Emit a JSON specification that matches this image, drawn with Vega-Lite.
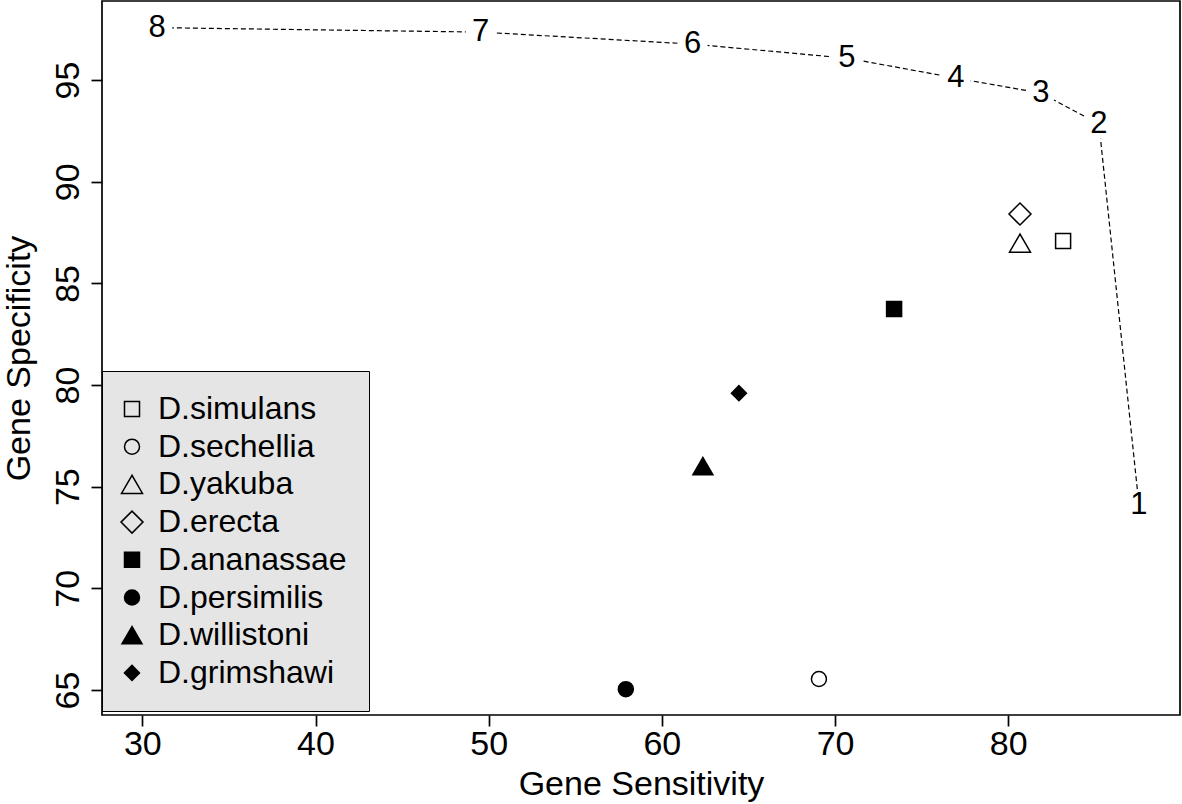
{
  "$schema": "https://vega.github.io/schema/vega-lite/v6.json",
  "width": 1078,
  "height": 714,
  "autosize": {"type": "none"},
  "padding": {"left": 102, "top": 1, "right": 2, "bottom": 89},
  "background": "white",
  "config": {
    "font": "Liberation Sans",
    "view": {"stroke": "black", "strokeWidth": 1.7},
    "axis": {
      "grid": false,
      "domain": false,
      "tickColor": "black",
      "tickWidth": 1.7,
      "tickSize": 11,
      "labelColor": "black",
      "labelFont": "Liberation Sans",
      "labelFontSize": 34,
      "titleColor": "black",
      "titleFont": "Liberation Sans",
      "titleFontSize": 34,
      "titleFontWeight": "normal"
    },
    "legend": {
      "labelFont": "Liberation Sans",
      "labelFontSize": 32,
      "labelColor": "black",
      "labelLimit": 0,
      "symbolStrokeWidth": 1.5
    }
  },
  "datasets": {
    "roc": [
      {"n": 1, "sens": 87.55, "spec": 74.1},
      {"n": 2, "sens": 85.24, "spec": 92.84},
      {"n": 3, "sens": 81.89, "spec": 94.36},
      {"n": 4, "sens": 76.98, "spec": 95.1},
      {"n": 5, "sens": 70.68, "spec": 96.08},
      {"n": 6, "sens": 61.78, "spec": 96.77},
      {"n": 7, "sens": 49.54, "spec": 97.36},
      {"n": 8, "sens": 30.86, "spec": 97.58}
    ],
    "species": [
      {"species": "D.simulans", "sens": 83.17, "spec": 87.08},
      {"species": "D.sechellia", "sens": 69.07, "spec": 65.54},
      {"species": "D.yakuba", "sens": 80.68, "spec": 86.98},
      {"species": "D.erecta", "sens": 80.68, "spec": 88.41},
      {"species": "D.ananassae", "sens": 73.41, "spec": 83.74},
      {"species": "D.persimilis", "sens": 57.92, "spec": 65.04},
      {"species": "D.willistoni", "sens": 62.37, "spec": 76.01},
      {"species": "D.grimshawi", "sens": 64.45, "spec": 79.6}
    ]
  },
  "encoding": {
    "x": {
      "field": "sens",
      "type": "quantitative",
      "title": "Gene Sensitivity",
      "scale": {"domain": [27.67, 89.92], "nice": false, "zero": false},
      "axis": {"values": [30, 40, 50, 60, 70, 80], "labelPadding": 1, "titlePadding": 6, "labelFlush": false}
    },
    "y": {
      "field": "spec",
      "type": "quantitative",
      "title": "Gene Specificity",
      "scale": {"domain": [63.77, 98.89], "nice": false, "zero": false},
      "axis": {"values": [65, 70, 75, 80, 85, 90, 95], "labelAngle": -90, "labelAlign": "center", "labelBaseline": "alphabetic", "labelPadding": 13, "titlePadding": 15, "labelFlush": false}
    }
  },
  "layer": [
    {
      "data": {"name": "roc"},
      "mark": {"type": "line", "color": "black", "strokeWidth": 1.2, "strokeDash": [5, 3]},
      "encoding": {"order": {"field": "n", "type": "quantitative"}}
    },
    {
      "data": {"name": "roc"},
      "mark": {"type": "point", "shape": "circle", "filled": true, "color": "white", "opacity": 1, "size": 900}
    },
    {
      "data": {"name": "roc"},
      "mark": {"type": "text", "fontSize": 31, "color": "black", "align": "center", "baseline": "middle", "font": "Liberation Sans"},
      "encoding": {"text": {"field": "n", "type": "nominal"}}
    },
    {
      "data": {"name": "species"},
      "mark": {"type": "point", "filled": false, "strokeWidth": 1.5, "opacity": 1},
      "encoding": {
        "shape": {
          "field": "species", "type": "nominal",
          "scale": {
            "domain": ["D.simulans", "D.sechellia", "D.yakuba", "D.erecta", "D.ananassae", "D.persimilis", "D.willistoni", "D.grimshawi"],
            "range": ["square", "circle", "triangle-up", "diamond", "square", "circle", "triangle-up", "diamond"]
          },
          "legend": {
            "title": null, "orient": "none", "legendX": 0, "legendY": 370,
            "fillColor": "#e5e5e5", "strokeColor": "black",
            "padding": 22, "rowPadding": 5.7, "labelOffset": 10, "symbolOffset": -8
          }
        },
        "fill": {
          "field": "species", "type": "nominal",
          "scale": {
            "domain": ["D.simulans", "D.sechellia", "D.yakuba", "D.erecta", "D.ananassae", "D.persimilis", "D.willistoni", "D.grimshawi"],
            "range": ["transparent", "transparent", "transparent", "transparent", "black", "black", "black", "black"]
          },
          "legend": {
            "title": null, "orient": "none", "legendX": 0, "legendY": 370,
            "fillColor": "#e5e5e5", "strokeColor": "black",
            "padding": 22, "rowPadding": 5.7, "labelOffset": 10, "symbolOffset": -8
          }
        },
        "stroke": {
          "field": "species", "type": "nominal",
          "scale": {
            "domain": ["D.simulans", "D.sechellia", "D.yakuba", "D.erecta", "D.ananassae", "D.persimilis", "D.willistoni", "D.grimshawi"],
            "range": ["black", "black", "black", "black", "black", "black", "black", "black"]
          },
          "legend": {
            "title": null, "orient": "none", "legendX": 0, "legendY": 370,
            "fillColor": "#e5e5e5", "strokeColor": "black",
            "padding": 22, "rowPadding": 5.7, "labelOffset": 10, "symbolOffset": -8
          }
        },
        "size": {
          "field": "species", "type": "nominal",
          "scale": {
            "type": "ordinal",
            "domain": ["D.simulans", "D.sechellia", "D.yakuba", "D.erecta", "D.ananassae", "D.persimilis", "D.willistoni", "D.grimshawi"],
            "range": [225, 225, 441, 484, 225, 225, 400, 225]
          },
          "legend": {
            "title": null, "orient": "none", "legendX": 0, "legendY": 370,
            "fillColor": "#e5e5e5", "strokeColor": "black",
            "padding": 22, "rowPadding": 5.7, "labelOffset": 10, "symbolOffset": -8
          }
        }
      }
    }
  ]
}
